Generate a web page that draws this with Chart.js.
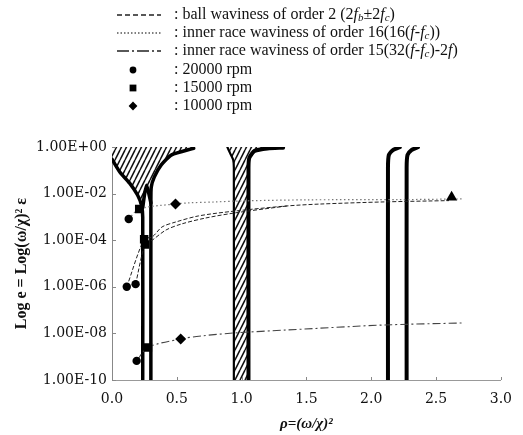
<!DOCTYPE html>
<html><head><meta charset="utf-8">
<script src="https://cdn.jsdelivr.net/npm/chart.js@4.4.1/dist/chart.umd.min.js"></script>
<style>html,body{margin:0;padding:0;background:#fff}#wrap{width:523px;height:435px;position:relative}</style>
</head><body><div id="wrap"><canvas id="c" width="523" height="435"></canvas></div>
<script>
// ---- axis ticks ----
const xTicks = [0, 0.5, 1.0, 1.5, 2.0, 2.5, 3.0];
const yTicks = [1e-10, 1e-8, 1e-6, 1e-4, 1e-2, 1];

// ---- measured markers ----
const rpm20000X = [0.129, 0.114, 0.182, 0.19];
const rpm20000Y = [8.1e-4, 1.0e-6, 1.3e-6, 6.6e-10];
const rpm15000X = [0.21, 0.248, 0.255, 0.277];
const rpm15000Y = [2.2e-3, 1.1e-4, 6.5e-5, 2.5e-9];
const rpm10000X = [0.49, 0.53];
const rpm10000Y = [3.6e-3, 5.8e-9];
const endMarkX = [2.62];
const endMarkY = [7.0e-3];

// ---- ball waviness order 2 (dashed, two branches) ----
const ballAX = [0.114, 0.248, 0.31, 0.386, 0.49, 0.667, 0.947, 1.35, 1.6, 2.1, 2.6];
const ballAY = [1.0e-6, 1.1e-4, 1.38e-4, 3.7e-4, 6.0e-4, 1.1e-3, 1.78e-3, 2.95e-3, 3.55e-3, 4.4e-3, 5.0e-3];
const ballBX = [0.182, 0.255, 0.31, 0.417, 0.538, 0.72, 0.947, 1.35];
const ballBY = [1.3e-6, 6.5e-5, 1.0e-4, 2.75e-4, 5.0e-4, 8.9e-4, 1.48e-3, 2.95e-3];

// ---- inner race waviness order 16 (dotted) ----
const in16X = [0.129, 0.21, 0.49, 0.59, 0.8, 0.97, 1.5, 2.2, 2.7];
const in16Y = [8.1e-4, 2.2e-3, 3.6e-3, 4.0e-3, 4.4e-3, 4.8e-3, 5.4e-3, 5.5e-3, 5.9e-3];

// ---- inner race waviness order 15 (dash-dot) ----
const in15X = [0.19, 0.277, 0.53, 0.7, 0.95, 1.35, 2.1, 2.71];
const in15Y = [6.6e-10, 2.5e-9, 5.8e-9, 7.9e-9, 1.05e-8, 1.4e-8, 2.3e-8, 2.8e-8];

// ---- stability boundaries ----
const leftOuterX = [0.0, 0.06, 0.136, 0.197, 0.227, 0.237, 0.237];
const leftOuterY = [0.3, 0.085, 0.028, 0.0087, 0.0032, 0.001, 1e-10];
const rightOuterX = [0.63, 0.46, 0.38, 0.326, 0.303, 0.300, 0.300];
const rightOuterY = [0.88, 0.46, 0.17, 0.051, 0.019, 0.005, 1e-10];
const cuspX = [0.237, 0.252, 0.267, 0.284, 0.300];
const cuspY = [0.0025, 0.01, 0.023, 0.01, 0.004];
const funnelX = [0, 0, 0.06, 0.136, 0.197, 0.227, 0.237, 0.252, 0.267, 0.285, 0.300, 0.303, 0.326, 0.38, 0.46, 0.63, 0.63, 0];
const funnelY = [1, 0.3, 0.085, 0.028, 0.0087, 0.0032, 0.0015, 0.008, 0.021, 0.009, 0.004, 0.019, 0.051, 0.17, 0.46, 0.85, 1, 1];
const midLeftX = [0.89, 0.91, 0.935, 0.94, 0.94];
const midLeftY = [1.0, 0.56, 0.28, 0.13, 1e-10];
const midRightX = [1.32, 1.2, 1.1, 1.06, 1.053, 1.053];
const midRightY = [0.93, 0.87, 0.68, 0.35, 0.13, 1e-10];
const midBandX = [0.89, 0.91, 0.935, 0.94, 0.94, 1.053, 1.053, 1.06, 1.1, 1.2, 1.2, 0.89];
const midBandY = [1, 0.56, 0.28, 0.13, 1e-10, 1e-10, 0.13, 0.35, 0.68, 0.87, 1, 1];
const right1X = [2.129, 2.129, 2.136, 2.167, 2.22];
const right2X = [2.273, 2.273, 2.28, 2.31, 2.36];
const rightY = [1e-10, 0.13, 0.46, 0.74, 0.98];

const pts = (xs, ys) => xs.map((x, i) => ({x: x, y: ys[i]}));

function makeHatch() {
  const c = document.createElement('canvas'); c.width = 5; c.height = 10;
  const g = c.getContext('2d');
  g.fillStyle = '#fff'; g.fillRect(0, 0, 5, 10);
  g.strokeStyle = '#111'; g.lineWidth = 1.5;
  for (const dx of [-5, 0, 5]) { g.beginPath(); g.moveTo(dx, 10); g.lineTo(dx + 5, 0); g.stroke(); }
  return g.createPattern(c, 'repeat');
}
const hatch = makeHatch();

const marker = (label, xs, ys, style, r) => ({label, data: pts(xs, ys), showLine: false, pointStyle: style,
  pointRadius: r, pointBackgroundColor: '#000', pointBorderColor: '#000', pointBorderWidth: 0, borderWidth: 0});
const thin = (label, xs, ys, dash, color, w) => ({label, data: pts(xs, ys), borderColor: color, borderWidth: w,
  borderDash: dash, pointRadius: 0, tension: 0.3, fill: false});
const thick = (label, xs, ys, w) => ({label, data: pts(xs, ys), borderColor: '#000', borderWidth: w,
  pointRadius: 0, tension: 0.2, fill: false, borderCapStyle: 'round'});
const area = (label, xs, ys) => ({label, data: pts(xs, ys), borderWidth: 0, borderColor: 'rgba(0,0,0,0)',
  backgroundColor: hatch, pointRadius: 0, tension: 0, fill: 'shape'});

const datasets = [
  marker('end', endMarkX, endMarkY, 'triangle', 6.5),
  marker('20000 rpm', rpm20000X, rpm20000Y, 'circle', 4.2),
  marker('15000 rpm', rpm15000X, rpm15000Y, 'rect', 6),
  marker('10000 rpm', rpm10000X, rpm10000Y, 'rectRot', 5.5),
  thin('ball A', ballAX, ballAY, [4, 2], '#222', 1),
  thin('ball B', ballBX, ballBY, [4, 2], '#222', 1),
  thin('inner 16', in16X, in16Y, [1.5, 2.5], '#777', 1.2),
  thin('inner 15', in15X, in15Y, [8, 3, 2, 3], '#444', 1.1),
  thick('leftOuter', leftOuterX, leftOuterY, 3.5),
  thick('rightOuter', rightOuterX, rightOuterY, 3.5),
  thick('cusp', cuspX, cuspY, 3.5),
  thick('midLeft', midLeftX, midLeftY, 2.2),
  thick('midRight', midRightX, midRightY, 4),
  thick('right1', right1X, rightY, 4),
  thick('right2', right2X, rightY, 4),
  area('funnel', funnelX, funnelY),
  area('band', midBandX, midBandY)
];

function drawRich(ctx, x, y, segs, size) {
  for (const s of segs) {
    const fs = s.sub ? Math.round(size * 0.68) : size;
    ctx.font = (s.i ? 'italic ' : '') + fs + 'px "Liberation Serif"';
    ctx.fillText(s.t, x, y + (s.sub ? size * 0.22 : 0));
    x += ctx.measureText(s.t).width;
  }
}

const legendRows = [
  {kind: 'line', dash: [5, 3], color: '#222', segs: [{t: ': ball waviness of order 2 (2'}, {t: 'f', i: 1}, {t: 'b', i: 1, sub: 1}, {t: '\u00b12'}, {t: 'f', i: 1}, {t: 'c', i: 1, sub: 1}, {t: ')'}]},
  {kind: 'line', dash: [1.5, 2], color: '#555', segs: [{t: ': inner race waviness of order 16(16('}, {t: 'f', i: 1}, {t: '-'}, {t: 'f', i: 1}, {t: 'c', i: 1, sub: 1}, {t: '))'}]},
  {kind: 'line', dash: [12, 3, 2, 3], color: '#222', segs: [{t: ': inner race waviness of order 15(32('}, {t: 'f', i: 1}, {t: '-'}, {t: 'f', i: 1}, {t: 'c', i: 1, sub: 1}, {t: ')-2'}, {t: 'f', i: 1}, {t: ')'}]},
  {kind: 'circle', segs: [{t: ': 20000 rpm'}]},
  {kind: 'rect', segs: [{t: ': 15000 rpm'}]},
  {kind: 'rectRot', segs: [{t: ': 10000 rpm'}]}
];
const legendRowY = [15, 33, 51, 70, 88, 106];

const legendPlugin = {
  id: 'richLegend',
  afterDraw(chart) {
    const ctx = chart.ctx;
    ctx.save();
    ctx.fillStyle = '#111';
    ctx.textBaseline = 'middle';
    legendRows.forEach((r, i) => {
      const y = legendRowY[i];
      if (r.kind === 'line') {
        ctx.save(); ctx.strokeStyle = r.color; ctx.lineWidth = 1.3; ctx.setLineDash(r.dash);
        ctx.beginPath(); ctx.moveTo(117, y); ctx.lineTo(161, y); ctx.stroke(); ctx.restore();
      } else {
        const rad = r.kind === 'circle' ? 3.4 : (r.kind === 'rect' ? 4.8 : 4.4);
        ctx.save(); ctx.fillStyle = '#000'; ctx.strokeStyle = '#000';
        Chart.helpers.drawPoint(ctx, {pointStyle: r.kind, radius: rad, rotation: 0, borderWidth: 0}, 133, y);
        ctx.restore();
      }
      ctx.fillStyle = '#111';
      drawRich(ctx, 174, y, r.segs, 16);
    });
    // small inward tick marks
    const xs = chart.scales.x, ys = chart.scales.y, a = chart.chartArea;
    ctx.strokeStyle = '#888'; ctx.lineWidth = 1; ctx.setLineDash([]);
    yTicks.forEach(v => { const py = Math.round(ys.getPixelForValue(v)) + 0.5; ctx.beginPath(); ctx.moveTo(a.left, py); ctx.lineTo(a.left + 4, py); ctx.stroke(); });
    xTicks.forEach(v => { const px = Math.round(xs.getPixelForValue(v)) + 0.5; ctx.beginPath(); ctx.moveTo(px, a.bottom); ctx.lineTo(px, a.bottom - 3); ctx.stroke(); });
    ctx.restore();
  }
};

new Chart(document.getElementById('c'), {
  type: 'line',
  data: {datasets},
  options: {
    responsive: false, animation: false, devicePixelRatio: 1,
    layout: {padding: {top: 147, right: 15, left: 0, bottom: 0}},
    plugins: {legend: {display: false}, tooltip: {enabled: false}},
    scales: {
      x: {
        type: 'linear', min: 0, max: 3,
        afterFit(s) { s.height = 55; },
        afterBuildTicks(s) { s.ticks = xTicks.map(v => ({value: v})); },
        grid: {display: false, drawTicks: false},
        border: {display: true, color: '#999', dash: [1, 4], width: 1},
        ticks: {padding: 11, color: '#111', font: {family: '"DejaVu Serif"', size: 14}, callback: v => Number(v).toFixed(1), maxRotation: 0, autoSkip: false},
        title: {display: true, text: '\u03c1=(\u03c9/\u03c7)\u00b2', color: '#111', padding: {top: 0, bottom: 2}, font: {family: '"Liberation Serif"', size: 15, style: 'italic', weight: 'bold'}}
      },
      y: {
        type: 'logarithmic', min: 1e-10, max: 1,
        afterFit(s) { s.width = 112; },
        afterBuildTicks(s) { s.ticks = yTicks.map(v => ({value: v})); },
        grid: {display: false, drawTicks: false},
        border: {display: true, color: '#888', dash: [6, 3, 1, 3], width: 1},
        ticks: {padding: 5, color: '#111', font: {family: '"DejaVu Serif"', size: 14}, autoSkip: false,
          callback: v => { const e = Math.round(Math.log10(v)); return '1.00E' + (e >= 0 ? '+' : '-') + String(Math.abs(e)).padStart(2, '0'); }},
        title: {display: true, text: 'Log e = Log(\u03c9/\u03c7)\u00b2 \u03b5', color: '#111', padding: {top: 12, bottom: 0}, font: {family: '"Liberation Serif"', size: 16, weight: 'bold'}}
      }
    }
  },
  plugins: [legendPlugin]
});
</script></body></html>
